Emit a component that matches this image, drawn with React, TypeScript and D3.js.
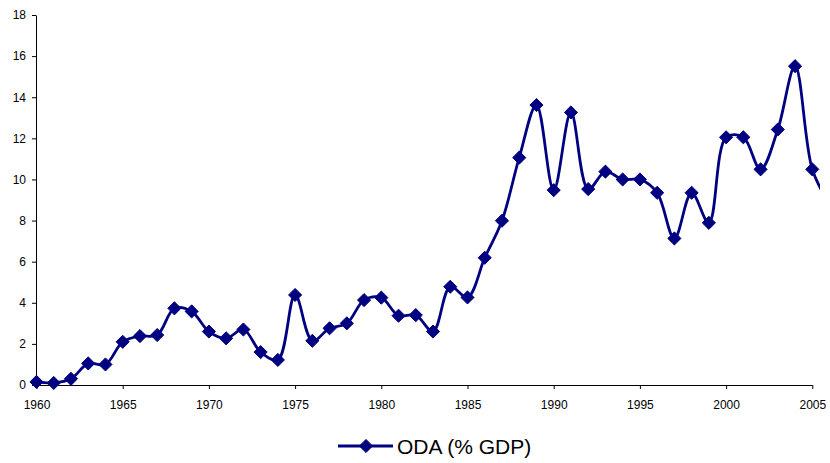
import { useEffect, useRef } from 'react';
import * as d3 from 'd3';

const years = [
    1960, 1961, 1962, 1963, 1964, 1965, 1966, 1967, 1968, 1969,
    1970, 1971, 1972, 1973, 1974, 1975, 1976, 1977, 1978, 1979,
    1980, 1981, 1982, 1983, 1984, 1985, 1986, 1987, 1988, 1989,
    1990, 1991, 1992, 1993, 1994, 1995, 1996, 1997, 1998, 1999,
    2000, 2001, 2002, 2003, 2004, 2005, 2006
];
const odaValues = [
    0.15, 0.1, 0.3, 1.05, 1.0, 2.1, 2.38, 2.43, 3.73, 3.58,
    2.6, 2.27, 2.7, 1.6, 1.22, 4.38, 2.15, 2.76, 3.0, 4.13,
    4.25, 3.37, 3.4, 2.6, 4.78, 4.26, 6.19, 7.99, 11.06, 13.62,
    9.48, 13.26, 9.53, 10.38, 10.0, 10.0, 9.35, 7.13, 9.35, 7.89,
    12.05, 12.05, 10.49, 12.43, 15.51, 10.49, 8.8
];
const xTicks = [1960, 1965, 1970, 1975, 1980, 1985, 1990, 1995, 2000, 2005];
const yTicks = [0, 2, 4, 6, 8, 10, 12, 14, 16, 18];
const seriesName = 'ODA (% GDP)';

const navy = '#000080';

export default function App() {
    const svgRef = useRef<SVGSVGElement>(null);

    useEffect(() => {
        document.body.style.margin = '0';
        if (!svgRef.current) return;
        const root = d3.select(svgRef.current);
        root.selectAll('*').remove();

        const x = d3.scaleLinear().domain([1960, 2005]).range([36.5, 812.3]);
        const y = d3.scaleLinear().domain([0, 18]).range([385, 15]);
        const data = years.map((yr, i) => ({ year: yr, value: odaValues[i] }));

        root.append('defs')
            .append('clipPath')
            .attr('id', 'plot-clip')
            .append('rect')
            .attr('x', 0)
            .attr('y', 0)
            .attr('width', 820)
            .attr('height', 420);

        // y axis
        const yAxis = root.append('g')
            .attr('transform', 'translate(36,0)')
            .call(d3.axisLeft(y).tickValues(yTicks).tickSize(4).tickSizeOuter(0).tickPadding(6));
        yAxis.select('.domain').attr('stroke', '#000');
        yAxis.selectAll('line').attr('stroke', '#000');
        yAxis.selectAll('text')
            .attr('fill', '#000')
            .style('font-family', 'Arial, "Liberation Sans", sans-serif')
            .style('font-size', '12px');

        // x axis
        const xAxis = root.append('g')
            .attr('transform', 'translate(0,385)')
            .call(d3.axisBottom(x).tickValues(xTicks).tickFormat(d3.format('d')).tickSize(4).tickSizeOuter(0).tickPadding(11));
        xAxis.select('.domain').attr('stroke', '#000').attr('d', `M36,0.5H${x(2005)}`);
        xAxis.selectAll('line').attr('stroke', '#000');
        xAxis.selectAll('text')
            .attr('fill', '#000')
            .style('font-family', 'Arial, "Liberation Sans", sans-serif')
            .style('font-size', '12px');

        const line = d3.line<typeof data[0]>()
            .x(d => x(d.year))
            .y(d => y(d.value))
            .curve(d3.curveCatmullRom.alpha(0.5));

        const plot = root.append('g').attr('clip-path', 'url(#plot-clip)');

        plot.append('path')
            .datum(data)
            .attr('fill', 'none')
            .attr('stroke', navy)
            .attr('stroke-width', 2.8)
            .attr('d', line);

        const diamond = d3.symbol().type(d3.symbolDiamond2).size(110);

        plot.selectAll('path.marker')
            .data(data.filter(d => d.year <= 2005))
            .enter()
            .append('path')
            .attr('class', 'marker')
            .attr('d', diamond)
            .attr('transform', d => `translate(${x(d.year)},${y(d.value)})`)
            .attr('fill', navy)
            .attr('stroke', navy)
            .attr('stroke-width', 1);

        // legend
        const legend = root.append('g').attr('transform', 'translate(338,446)');
        legend.append('line')
            .attr('x1', 0)
            .attr('x2', 55)
            .attr('y1', 0)
            .attr('y2', 0)
            .attr('stroke', navy)
            .attr('stroke-width', 2.8);
        legend.append('path')
            .attr('d', diamond)
            .attr('transform', 'translate(28,0)')
            .attr('fill', navy)
            .attr('stroke', navy);
        legend.append('text')
            .attr('x', 59)
            .attr('y', 0)
            .attr('dy', '0.36em')
            .attr('fill', '#000')
            .style('font-family', 'Arial, "Liberation Sans", sans-serif')
            .style('font-size', '21px')
            .text(seriesName);
    }, []);

    return (
        <svg ref={svgRef} width={830} height={463} style={{ display: 'block', background: '#fff' }} />
    );
}
